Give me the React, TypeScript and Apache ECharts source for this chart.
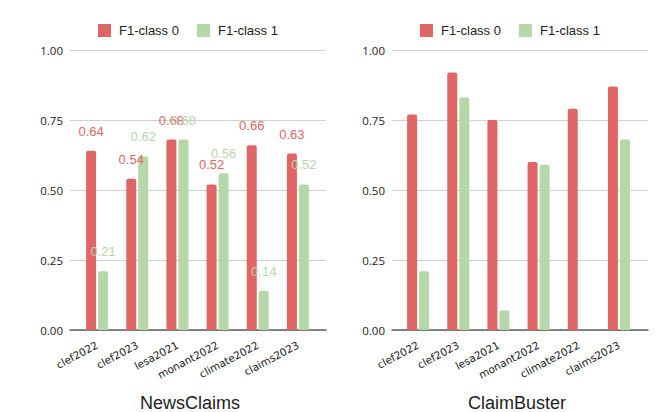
import React, { useEffect, useRef } from "react";
import * as echarts from "echarts";

const categories = ["clef2022", "clef2023", "lesa2021", "monant2022", "climate2022", "claims2023"];
const seriesNames = ["F1-class 0", "F1-class 1"];
const newsClaimsClass0 = [0.64, 0.54, 0.68, 0.52, 0.66, 0.63];
const newsClaimsClass1 = [0.21, 0.62, 0.68, 0.56, 0.14, 0.52];
const claimBusterClass0 = [0.77, 0.92, 0.75, 0.6, 0.79, 0.87];
const claimBusterClass1 = [0.21, 0.83, 0.07, 0.59, 0, 0.68];
const panelTitles = ["NewsClaims", "ClaimBuster"];
const yMin = 0;
const yMax = 1;
const yInterval = 0.25;

const RED = "#e06666";
const GREEN = "#b6d7a8";
const TEXT = "#222222";

export default function App() {
  const ref = useRef<HTMLDivElement>(null);

  useEffect(() => {
    if (!ref.current) return;
    const chart = echarts.init(ref.current, undefined, { renderer: "svg" });

    const top = 50;
    const bottom = 82;
    // bar grids (category spacing) and background grids (gridline extent)
    const grids = [
      { left: 77, width: 241, top, bottom },
      { left: 398, width: 241, top, bottom },
      { left: 70, width: 256, top, bottom },
      { left: 392, width: 256, top, bottom },
    ];

    const catAxis = (gridIndex: number) => ({
      type: "category",
      gridIndex,
      data: categories,
      axisLine: { show: false },
      axisTick: { show: false },
      splitLine: { show: false },
      axisLabel: {
        rotate: 28,
        margin: 14,
        interval: 0,
        color: TEXT,
        fontFamily: "DejaVu Sans",
        fontSize: 10.5,
      },
    });
    const hiddenY = (gridIndex: number) => ({
      type: "value",
      gridIndex,
      min: yMin,
      max: yMax,
      interval: yInterval,
      show: false,
    });
    const bgX = (gridIndex: number) => ({
      type: "value",
      gridIndex,
      min: 0,
      max: 1,
      axisLine: { show: true, onZero: false, lineStyle: { color: "#5f5f5f", width: 1.5 } },
      axisTick: { show: false },
      axisLabel: { show: false },
      splitLine: { show: false },
    });
    const bgY = (gridIndex: number) => ({
      type: "value",
      gridIndex,
      min: yMin,
      max: yMax,
      interval: yInterval,
      axisLine: { show: false },
      axisTick: { show: false },
      axisLabel: {
        margin: 7,
        color: TEXT,
        fontFamily: "Open Sans",
        fontSize: 11.5,
        formatter: (v: number) => v.toFixed(2),
      },
      splitLine: { show: true, lineStyle: { color: "#d0d0d0", width: 1 } },
    });

    const bar = (name: string, data: number[], color: string, idx: number, withLabel: boolean) => ({
      type: "bar",
      name,
      data,
      xAxisIndex: idx,
      yAxisIndex: idx,
      barWidth: 10,
      barGap: "20%",
      itemStyle: { color, borderRadius: [2, 2, 0, 0] },
      label: withLabel
        ? {
            show: true,
            position: "top",
            distance: 13,
            color,
            fontFamily: "Liberation Sans",
            fontSize: 13,
            formatter: (p: any) => Number(p.value).toFixed(2),
          }
        : { show: false },
      z: 3,
    });

    const legendCommon = {
      top: 19,
      itemWidth: 13,
      itemHeight: 13,
      itemGap: 18,
      icon: "rect",
      textStyle: { color: TEXT, fontFamily: "Liberation Sans", fontSize: 13, padding: [0, 0, 0, 3] },
      data: seriesNames,
    };

    chart.setOption({
      animation: false,
      backgroundColor: "#ffffff",
      grid: grids,
      xAxis: [catAxis(0), catAxis(1), bgX(2), bgX(3)],
      yAxis: [hiddenY(0), hiddenY(1), bgY(2), bgY(3)],
      legend: [
        { ...legendCommon, left: 93, seriesIndex: [0, 1] },
        { ...legendCommon, left: 415 },
      ],
      series: [
        bar(seriesNames[0], newsClaimsClass0, RED, 0, true),
        bar(seriesNames[1], newsClaimsClass1, GREEN, 0, true),
        bar(seriesNames[0], claimBusterClass0, RED, 1, false),
        bar(seriesNames[1], claimBusterClass1, GREEN, 1, false),
      ],
      graphic: [
        {
          type: "text",
          x: 190,
          y: 394,
          style: {
            text: panelTitles[0],
            textAlign: "center",
            textVerticalAlign: "top",
            fill: TEXT,
            fontFamily: "Liberation Sans",
            fontSize: 18,
          },
        },
        {
          type: "text",
          x: 517,
          y: 394,
          style: {
            text: panelTitles[1],
            textAlign: "center",
            textVerticalAlign: "top",
            fill: TEXT,
            fontFamily: "Liberation Sans",
            fontSize: 18,
          },
        },
      ],
    });

    return () => chart.dispose();
  }, []);

  return (
    <div
      ref={ref}
      style={{ position: "fixed", left: 0, top: 0, width: 665, height: 412, background: "#fff" }}
    />
  );
}
